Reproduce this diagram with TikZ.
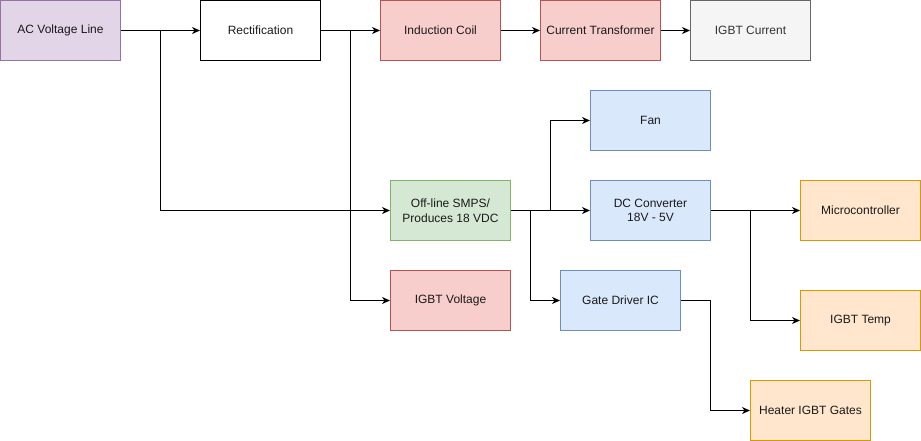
\documentclass[tikz,border=0pt]{standalone}
\usepackage{fontspec}
\setmainfont{Liberation Sans}
\usetikzlibrary{arrows.meta}
\definecolor{purpF}{HTML}{E1D5E7}\definecolor{purpD}{HTML}{9673A6}
\definecolor{redF}{HTML}{F8CECC}\definecolor{redD}{HTML}{B85450}
\definecolor{greyF}{HTML}{F5F5F5}\definecolor{greyD}{HTML}{666666}
\definecolor{blueF}{HTML}{DAE8FC}\definecolor{blueD}{HTML}{6C8EBF}
\definecolor{greenF}{HTML}{D5E8D4}\definecolor{greenD}{HTML}{82B366}
\definecolor{orangeF}{HTML}{FFE6CC}\definecolor{orangeD}{HTML}{D79B00}
\definecolor{txt}{HTML}{1A1A1A}\definecolor{txtg}{HTML}{333333}
\tikzset{
  box/.style={draw, line width=1pt, minimum width=120pt, minimum height=60pt, inner sep=0pt,
    align=center, text=txt, font=\fontsize{12}{14.5}\selectfont},
  purp/.style={box, fill=purpF, draw=purpD},
  plain/.style={box, fill=white, draw=black},
  redb/.style={box, fill=redF, draw=redD},
  greyb/.style={box, fill=greyF, draw=greyD, text=txtg},
  blueb/.style={box, fill=blueF, draw=blueD},
  greenb/.style={box, fill=greenF, draw=greenD},
  orangeb/.style={box, fill=orangeF, draw=orangeD},
  arr/.style={draw=black, line width=1pt, -{Stealth[length=8pt,width=7pt,inset=2.5pt]}}
}
\begin{document}
\begin{tikzpicture}[x=1pt,y=-1pt]
\useasboundingbox (0,0) rectangle (921,441);
\node[purp] (ac) at (60.5,30.5) {AC Voltage Line};
\node[plain] (rect) at (260.5,30.5) {Rectification};
\node[redb] (coil) at (440.5,30.5) {Induction Coil};
\node[redb] (ct) at (600.5,30.5) {Current Transformer};
\node[greyb] (igbtc) at (750.5,30.5) {IGBT Current};
\node[blueb] (fan) at (650.5,120.5) {Fan};
\node[greenb] (smps) at (450.5,210.5) {Off-line SMPS/\\Produces 18 VDC};
\node[blueb] (dc) at (650.5,210.5) {DC Converter\\18V - 5V};
\node[orangeb] (mcu) at (860.5,210.5) {Microcontroller};
\node[redb] (igbtv) at (450.5,300.5) {IGBT Voltage};
\node[blueb] (gate) at (620.5,300.5) {Gate Driver IC};
\node[orangeb] (temp) at (860.5,320.5) {IGBT Temp};
\node[orangeb] (heat) at (810.5,410.5) {Heater IGBT Gates};
\coordinate (j1) at (160.5,30.5);
\coordinate (j2) at (350.5,30.5);
\coordinate (j3) at (550.5,210.5);
\coordinate (j4) at (530.5,210.5);
\coordinate (j5) at (750.5,210.5);
\coordinate (j6) at (710.5,300.5);
\draw[arr] (ac.east) -- (rect.west);
\draw[arr] (ac.east) -- (j1) |- (smps.west);
\draw[arr] (rect.east) -- (coil.west);
\draw[arr] (rect.east) -- (j2) |- (igbtv.west);
\draw[arr] (coil.east) -- (ct.west);
\draw[arr] (ct.east) -- (igbtc.west);
\draw[arr] (smps.east) -- (dc.west);
\draw[arr] (smps.east) -- (j3) |- (fan.west);
\draw[arr] (smps.east) -- (j4) |- (gate.west);
\draw[arr] (dc.east) -- (mcu.west);
\draw[arr] (dc.east) -- (j5) |- (temp.west);
\draw[arr] (gate.east) -- (j6) |- (heat.west);
\end{tikzpicture}
\end{document}
